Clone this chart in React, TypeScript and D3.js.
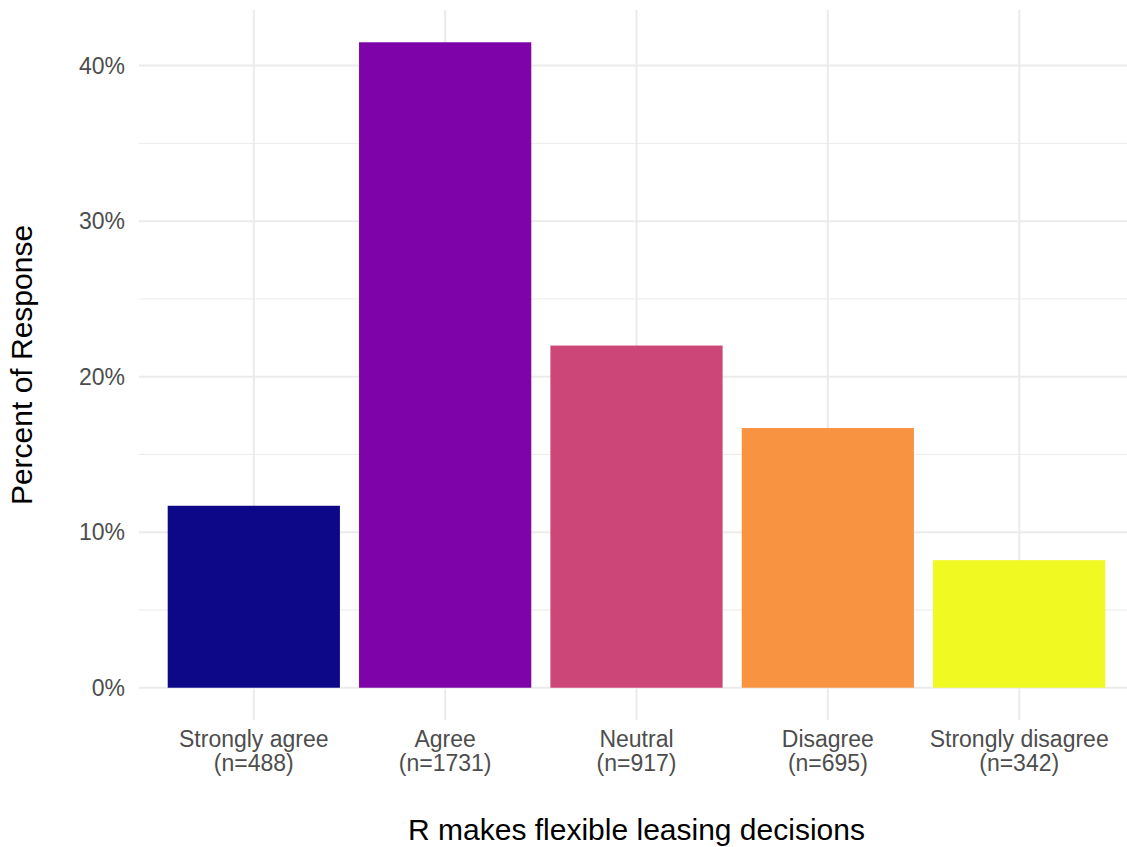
import React from "react";
import * as d3 from "d3";

const categories = ["Strongly agree", "Agree", "Neutral", "Disagree", "Strongly disagree"];
const counts = [488, 1731, 917, 695, 342];
const percents = [11.7, 41.5, 22.0, 16.7, 8.2];
const colors = ["#0D0887", "#7E03A8", "#CC4678", "#F89441", "#F0F921"];
const majorTicks = [0, 10, 20, 30, 40];
const minorTicks = [5, 15, 25, 35];

const W = 1127;
const H = 847;
const panel = { left: 139, right: 1134, top: 10, bottom: 720 };

export default function App() {
  const n = categories.length;
  const x = d3
    .scaleLinear()
    .domain([1 - 0.6, n + 0.6])
    .range([panel.left, panel.right]);
  const maxV = d3.max(percents) as number;
  const y = d3
    .scaleLinear()
    .domain([-maxV * 0.05, maxV * 1.05])
    .range([panel.bottom, panel.top]);
  const bw = x(1.45) - x(1.0);
  const font = "'Liberation Sans', Arial, sans-serif";
  return (
    <svg
      width={W}
      height={H}
      style={{ position: "absolute", left: 0, top: 0, background: "#fff" }}
      fontFamily={font}
    >
      <rect x={0} y={0} width={W} height={H} fill="#fff" />
      {minorTicks.map((t) => (
        <line key={"mi" + t} x1={panel.left} x2={panel.right} y1={y(t)} y2={y(t)} stroke="#EBEBEB" strokeWidth={1} />
      ))}
      {majorTicks.map((t) => (
        <line key={"ma" + t} x1={panel.left} x2={panel.right} y1={y(t)} y2={y(t)} stroke="#EBEBEB" strokeWidth={2} />
      ))}
      {categories.map((c, i) => (
        <line key={"v" + c} x1={x(i + 1)} x2={x(i + 1)} y1={panel.top} y2={panel.bottom} stroke="#EBEBEB" strokeWidth={2} />
      ))}
      {categories.map((c, i) => (
        <rect
          key={"b" + c}
          x={x(i + 1) - bw}
          width={bw * 2}
          y={y(percents[i])}
          height={y(0) - y(percents[i])}
          fill={colors[i]}
        />
      ))}
      {majorTicks.map((t) => (
        <text key={"yl" + t} x={125} y={y(t)} dy="0.36em" textAnchor="end" fontSize={23} fill="#4D4D4D">
          {t + "%"}
        </text>
      ))}
      {categories.map((c, i) => (
        <text key={"xl" + c} x={x(i + 1)} textAnchor="middle" fontSize={23} fill="#4D4D4D">
          <tspan x={x(i + 1)} y={747}>{c}</tspan>
          <tspan x={x(i + 1)} y={771}>{`(n=${counts[i]})`}</tspan>
        </text>
      ))}
      <text x={(panel.left + panel.right) / 2} y={840} textAnchor="middle" fontSize={30} fill="#000">
        R makes flexible leasing decisions
      </text>
      <text
        transform={`translate(32, ${(panel.top + panel.bottom) / 2}) rotate(-90)`}
        textAnchor="middle"
        fontSize={30}
        fill="#000"
      >
        Percent of Response
      </text>
    </svg>
  );
}
